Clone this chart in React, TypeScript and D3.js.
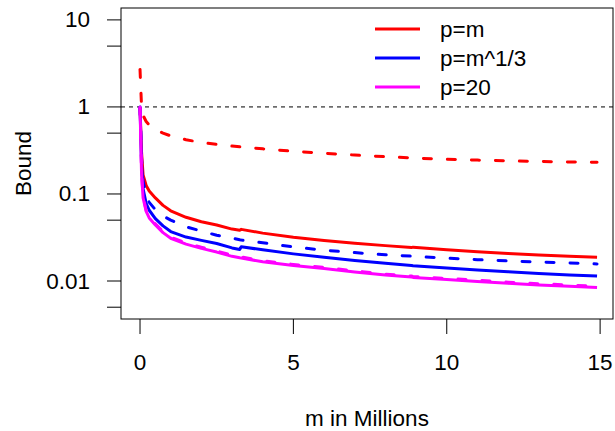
import React from "react";
import * as d3 from "d3";

// m values (millions) shared by every curve
const mValues = [0, 0.05, 0.1, 0.2, 0.3, 0.5, 0.75, 1, 1.5, 2, 2.5, 3, 3.25, 3.3, 4, 5, 6, 7, 8, 8.85, 8.9, 10, 11, 12, 13, 14, 14.9];

const redSolid = [1.0, 0.3, 0.165, 0.125, 0.108, 0.09, 0.074, 0.064, 0.054, 0.048, 0.044, 0.0395, 0.0383, 0.0392, 0.0355, 0.0318, 0.0292, 0.0272, 0.0255, 0.0242, 0.0245, 0.0228, 0.0217, 0.0207, 0.0199, 0.0192, 0.0187];
const redDashed = [2.7, 1.0, 0.8, 0.68, 0.62, 0.55, 0.5, 0.465, 0.42, 0.39, 0.372, 0.355, 0.348, 0.347, 0.33, 0.31, 0.293, 0.28, 0.268, 0.26, 0.259, 0.25, 0.245, 0.24, 0.236, 0.233, 0.231];
const blueSolid = [1.0, 0.22, 0.115, 0.078, 0.065, 0.052, 0.043, 0.037, 0.032, 0.0293, 0.027, 0.024, 0.023, 0.0248, 0.0228, 0.0205, 0.0187, 0.0172, 0.016, 0.0151, 0.015, 0.0141, 0.0134, 0.0128, 0.0122, 0.0117, 0.0114];
const blueDashed = [1.0, 0.26, 0.14, 0.096, 0.08, 0.066, 0.056, 0.05, 0.042, 0.0375, 0.0335, 0.031, 0.0298, 0.0296, 0.0275, 0.0246, 0.0226, 0.0212, 0.02, 0.0193, 0.0192, 0.0183, 0.0176, 0.017, 0.0165, 0.0161, 0.0157];
const magentaSolid = [1.0, 0.17, 0.09, 0.063, 0.053, 0.044, 0.036, 0.031, 0.0265, 0.0237, 0.0215, 0.0192, 0.0185, 0.0184, 0.0166, 0.0151, 0.0139, 0.0127, 0.0117, 0.0111, 0.011, 0.0104, 0.0099, 0.0094, 0.009, 0.0087, 0.0084];
const magentaDashed = [1.0, 0.175, 0.093, 0.065, 0.055, 0.0455, 0.037, 0.032, 0.0273, 0.0244, 0.0221, 0.0198, 0.019, 0.0189, 0.0171, 0.0155, 0.0143, 0.0131, 0.012, 0.0114, 0.0113, 0.0107, 0.0102, 0.0097, 0.0093, 0.009, 0.0087];

const legendLabels = ["p=m", "p=m^1/3", "p=20"];
const legendColors = ["#ff0000", "#0000ff", "#ff00ff"];

const xTicks = [0, 5, 10, 15];
const yTicks = [10, 5, 1, 0.5, 0.1, 0.05, 0.01, 0.005];
const yLabels = ["10", "", "1", "", "0.1", "", "0.01", ""];

const series = [
  { values: redSolid, color: "#ff0000", dashed: false },
  { values: redDashed, color: "#ff0000", dashed: true },
  { values: blueSolid, color: "#0000ff", dashed: false },
  { values: blueDashed, color: "#0000ff", dashed: true },
  { values: magentaSolid, color: "#ff00ff", dashed: false },
  { values: magentaDashed, color: "#ff00ff", dashed: true },
];

export default function App() {
  const width = 615;
  const height = 431;
  const left = 121, right = 613, top = 8, bottom = 319;
  const font = "'Liberation Sans', Arial, sans-serif";
  const fs = 22.5;

  const x = d3.scaleLinear().domain([-0.62, 15.42]).range([left, right]);
  const y = d3.scaleLog().domain([0.00366, 13.7]).range([bottom, top]);

  const line = d3
    .line<number>()
    .x((d, i) => x(mValues[i]))
    .y((d) => y(d));

  return (
    <svg width={width} height={height} style={{ position: "absolute", left: 0, top: 0, background: "#fff" }} fontFamily={font}>
      <defs>
        <clipPath id="plot">
          <rect x={left} y={top} width={right - left} height={bottom - top} />
        </clipPath>
      </defs>

      {/* reference line at 1 */}
      <line x1={left} x2={right} y1={y(1)} y2={y(1)} stroke="#000" strokeWidth={1} strokeDasharray="4,4" />

      <g clipPath="url(#plot)">
        {series.map((s, i) => (
          <path
            key={i}
            d={line(s.values) || ""}
            fill="none"
            stroke={s.color}
            strokeWidth={3}
            strokeLinecap={s.dashed ? "round" : "butt"}
            strokeLinejoin="round"
            strokeDasharray={s.dashed ? "8,16" : undefined}
          />
        ))}
      </g>

      <rect x={left} y={top} width={right - left} height={bottom - top} fill="none" stroke="#000" strokeWidth={1} />

      {/* y axis */}
      {yTicks.map((t, i) => (
        <g key={"y" + i}>
          <line x1={left - 14} x2={left} y1={y(t)} y2={y(t)} stroke="#000" />
          {yLabels[i] && (
            <text x={90} y={y(t)} textAnchor="end" dominantBaseline="central" fontSize={fs}>
              {yLabels[i]}
            </text>
          )}
        </g>
      ))}
      <text transform={`translate(23,${(top + bottom) / 2}) rotate(-90)`} textAnchor="middle" dominantBaseline="central" fontSize={fs}>
        Bound
      </text>

      {/* x axis */}
      {xTicks.map((t) => (
        <g key={"x" + t}>
          <line x1={x(t)} x2={x(t)} y1={bottom} y2={bottom + 15} stroke="#000" />
          <text x={x(t)} y={362} textAnchor="middle" dominantBaseline="central" fontSize={fs}>
            {t}
          </text>
        </g>
      ))}
      <text x={(left + right) / 2} y={418} textAnchor="middle" dominantBaseline="central" fontSize={fs}>
        m in Millions
      </text>

      {/* legend */}
      {legendLabels.map((l, i) => (
        <g key={l}>
          <line x1={375} x2={420} y1={29 + i * 29} y2={29 + i * 29} stroke={legendColors[i]} strokeWidth={3} />
          <text x={440} y={29 + i * 29} dominantBaseline="central" fontSize={fs}>
            {l}
          </text>
        </g>
      ))}
    </svg>
  );
}
